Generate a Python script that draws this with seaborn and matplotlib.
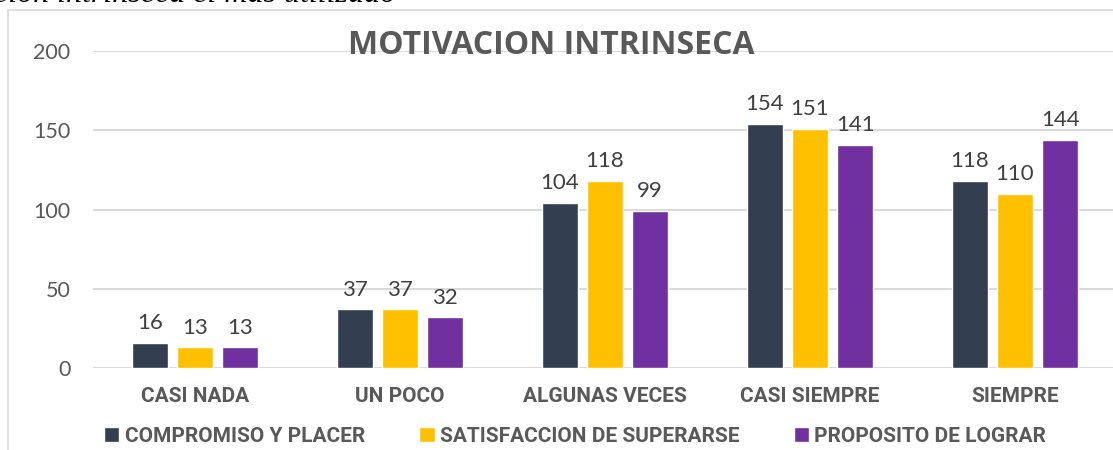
import matplotlib
matplotlib.use("Agg")
import matplotlib.pyplot as plt
import seaborn as sns
import pandas as pd
from matplotlib.patches import Rectangle

categories = ["CASI NADA", "UN POCO", "ALGUNAS VECES", "CASI SIEMPRE", "SIEMPRE"]
series_names = ["COMPROMISO Y PLACER", "SATISFACCION DE SUPERARSE", "PROPOSITO DE LOGRAR"]
compromiso = [16, 37, 104, 154, 118]
satisfaccion = [13, 37, 118, 151, 110]
proposito = [13, 32, 99, 141, 144]
y_ticks = [0, 50, 100, 150, 200]
colors = ["#333F50", "#FFC000", "#7030A0"]

rows = []
for name, vals in zip(series_names, [compromiso, satisfaccion, proposito]):
    for cat, v in zip(categories, vals):
        rows.append({"categoria": cat, "serie": name, "valor": v})
df = pd.DataFrame(rows)

sns.set_theme(style="white")
W, H = 1113, 450
fig = plt.figure(figsize=(W / 100, H / 100), dpi=100)
ax = fig.add_axes([92.5 / W, (H - 368) / H, (1117.5 - 92.5) / W, (368 - 51) / H])

sns.barplot(data=df, x="categoria", y="valor", hue="serie", order=categories,
            hue_order=series_names, palette=colors, width=0.66, gap=0.2,
            saturation=1, ax=ax, legend=True)

ax.set_ylim(0, 200)
ax.set_yticks(y_ticks)
ax.set_xlabel("")
ax.set_ylabel("")
ax.grid(axis="y", color="#D9D9D9", linewidth=1.4)
ax.set_axisbelow(True)
for s in ax.spines.values():
    s.set_visible(False)
ax.tick_params(axis="y", length=0, pad=16, labelsize=15.5, labelcolor="#595959")
ax.tick_params(axis="x", length=0, pad=14)
for lbl in ax.get_yticklabels():
    lbl.set_family("Lato")
for lbl in ax.get_xticklabels():
    lbl.set_family("Roboto")
    lbl.set_fontweight("bold")
    lbl.set_fontsize(15)
    lbl.set_color("#595959")

for cont in ax.containers:
    ax.bar_label(cont, padding=7, fontsize=16, color="#404040", family="Lato")

handles, labels = ax.get_legend_handles_labels()
ax.get_legend().remove()
leg = fig.legend(handles, labels, loc="center", bbox_to_anchor=(575 / W, 1 - 436 / H),
                 ncol=3, frameon=False, handlelength=0.75, handleheight=0.75,
                 handletextpad=0.25, columnspacing=2.6,
                 prop={"family": "Roboto", "weight": "bold", "size": 15})
for t in leg.get_texts():
    t.set_color("#595959")

fig.text(551 / W, 1 - 46 / H, "MOTIVACION INTRINSECA", ha="center", va="center",
         fontsize=23, fontweight="bold", color="#595959", family="Open Sans")

# chart area border
fig.patches.append(Rectangle((8 / W, -0.1), 1.2, 1 - 10 / H + 0.1, transform=fig.transFigure,
                             fill=False, edgecolor="#D9D9D9", linewidth=1.2))

# caption line above the chart, partially cut by the page edge
fig.text(-6 / W, 1 - 2 / H, "ción intrínseca el más utilizado", ha="left", va="baseline",
         fontsize=23, style="italic", family="Liberation Serif", color="black")

fig.savefig("out.png", dpi=100)
